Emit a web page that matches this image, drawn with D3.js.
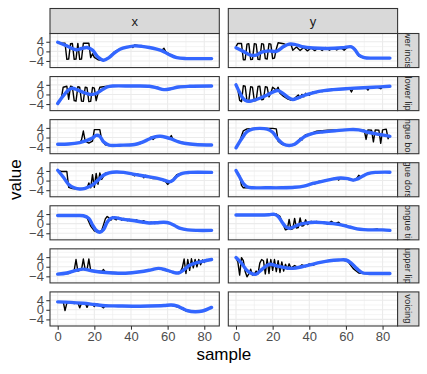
<!DOCTYPE html>
<html lang="en">
<head>
<meta charset="utf-8"/>
<title>Facets</title>
<script src="https://d3js.org/d3.v7.min.js"></script>
<style>
  body { margin: 0; background: #fff; }
  text { font-family: "Liberation Sans", Arial, sans-serif; }
  .grid-major { stroke: #ebebeb; stroke-width: 1.07; }
  .grid-minor { stroke: #ebebeb; stroke-width: 0.55; }
  .axis path { display: none; }
  .axis line { stroke: #333; stroke-width: 1.07; }
  .axis text { fill: #4d4d4d; font-size: 13px; }
</style>
</head>
<body>
<svg id="chart" width="427" height="374"></svg>
<script>
// facet labels
var rowLabels = ["lower incisor", "lower lip", "tongue body", "tongue dorsum", "tongue tip", "upper lip", "voicing"];
var colLabels = ["x", "y"];
var xTicks = [0, 20, 40, 60, 80];
var yTicks = [-4, 0, 4];

// raw traces, [sample, value]
var rawLowerIncisorX = [[0,3.8],[2,3.5],[4,3.4],[5,-3.3],[6,-3.2],[7,3.2],[8,3.3],[9,-3.3],[10,-3.2],[11,3.3],[12,-3.3],[13,-3.2],[14,3.4],[17,3.4],[18,-2.6],[19,-1.0],[20,-2.5],[22,-3.5],[25,-3.8],[28,-2.5],[31,-0.2],[34,1.0],[38,1.8],[40,2.3],[41,1.6],[42,2.7],[45,2.3],[48,2.0],[52,1.4],[55,0.8],[57,0.6],[58,1.3],[59,-0.2],[62,-1.6],[65,-2.6],[70,-3.0],[84,-3.0]];
var rawLowerLipX = [[0,-4.0],[2,-1.5],[3,3.0],[5,3.4],[6,-2.0],[7,3.4],[8,3.2],[9,-2.6],[10,-2.8],[11,3.2],[12,3.0],[13,-2.8],[14,-2.9],[15,3.0],[16,2.8],[17,-3.0],[18,-2.9],[19,2.9],[20,2.6],[21,-2.6],[22,0.5],[23,3.0],[26,3.3],[30,3.6],[50,3.5],[55,2.5],[58,1.8],[62,2.6],[67,3.3],[84,3.5]];
var rawTongueBodyX = [[0,-2.8],[8,-2.5],[12,-2.2],[13,-1.0],[14,2.7],[15,-1.5],[17,-2.3],[19,-1.5],[20,3.3],[23,3.3],[24,-1.0],[26,-3.0],[30,-3.3],[44,-2.8],[48,-1.5],[50,-0.5],[51,0.2],[52,-0.8],[54,0.4],[56,0.6],[58,0.2],[61,-0.3],[62,0.8],[63,-1.0],[66,-1.6],[70,-2.4],[75,-2.9],[84,-3.1]];
var rawTongueDorsumX = [[0,4.2],[2,3.8],[5,3.8],[6,-2.8],[8,-3.3],[11,-3.5],[16,-3.2],[17,-1.0],[18,-3.0],[19,2.5],[20,-2.8],[21,3.0],[22,-1.5],[23,3.2],[24,0.5],[26,3.1],[30,3.5],[34,3.6],[40,2.9],[42,2.0],[43,2.8],[46,2.2],[47,1.2],[48,2.2],[50,1.4],[52,0.8],[55,0.8],[57,0.2],[59,-0.5],[60,-1.6],[61,-0.8],[63,0.6],[65,2.5],[68,3.2],[84,3.4]];
var rawTongueTipX = [[0,3.4],[14,3.4],[16,2.5],[18,-1.0],[20,-3.0],[22,-3.6],[24,-2.8],[25,-0.5],[26,2.0],[27,3.0],[28,2.4],[29,1.4],[30,2.8],[31,2.0],[32,1.6],[33,2.6],[35,1.4],[36,2.2],[38,1.2],[39,1.8],[41,1.0],[43,1.6],[45,0.6],[47,1.2],[49,0.2],[51,0.6],[53,0.0],[55,0.8],[57,0.5],[60,0.6],[63,-0.5],[66,-1.8],[70,-2.6],[84,-2.8]];
var rawUpperLipX = [[0,-3.0],[6,-2.8],[8,-2.0],[9,-1.5],[10,3.0],[11,-1.8],[12,-1.5],[13,-1.2],[14,3.2],[15,-1.2],[16,-1.3],[17,3.2],[18,-1.5],[19,-1.8],[22,-1.8],[24,-2.0],[25,-1.2],[26,-2.2],[30,-2.4],[38,-2.7],[46,-2.0],[52,-1.2],[55,-0.5],[56,-0.9],[60,-1.8],[65,-2.7],[67,-2.0],[68,-0.5],[69,3.2],[70,-2.8],[71,3.0],[72,-1.5],[73,3.3],[74,-0.5],[75,3.0],[76,0.0],[77,3.0],[78,0.8],[79,2.8],[80,1.8],[81,3.0],[82,2.6],[84,3.0]];
var rawVoicingX = [[0,3.4],[3,3.4],[4,-0.3],[5,2.8],[7,3.2],[9,2.6],[11,3.0],[12,0.8],[13,2.7],[15,2.9],[16,1.0],[17,2.6],[19,2.2],[20,1.4],[21,2.4],[23,2.0],[25,0.8],[26,1.8],[30,1.7],[40,1.5],[50,1.6],[58,1.8],[62,2.0],[66,1.0],[70,-0.4],[75,-0.8],[80,-0.4],[84,1.0]];
var rawLowerIncisorY = [[0,2.0],[1,3.3],[3,3.3],[4,-3.5],[5,-3.5],[6,3.0],[7,3.2],[8,-3.4],[9,-3.3],[10,3.2],[11,3.0],[12,-3.3],[13,-3.4],[14,3.2],[15,3.0],[16,-3.0],[17,-3.2],[18,3.2],[19,3.0],[20,-3.0],[21,-2.8],[22,1.0],[23,3.6],[26,3.2],[28,2.5],[30,3.0],[31,0.5],[33,1.8],[35,0.4],[37,1.6],[39,0.2],[41,1.4],[43,0.3],[45,1.5],[47,0.4],[49,1.6],[51,0.5],[53,1.5],[55,0.6],[57,1.6],[59,0.5],[61,1.8],[63,2.0],[65,1.0],[67,-2.0],[70,-2.8],[84,-2.8]];
var rawLowerLipY = [[0,4.0],[1,2.0],[2,-2.5],[3,-3.0],[4,3.6],[5,3.4],[6,-2.8],[7,-2.6],[8,3.2],[9,3.0],[10,-2.6],[11,-2.5],[12,3.3],[13,3.4],[14,-2.2],[15,-2.0],[16,3.2],[17,3.0],[18,-1.0],[19,0.5],[20,3.0],[22,1.8],[23,3.0],[24,0.5],[26,-0.8],[28,-1.8],[30,-2.4],[32,-1.6],[34,-0.2],[35,-1.4],[36,0.0],[37,-1.0],[38,0.5],[40,-0.3],[42,1.0],[44,0.8],[45,1.6],[47,1.2],[50,1.8],[53,2.0],[56,2.2],[59,2.4],[62,2.5],[63,1.0],[64,2.6],[68,2.8],[71,2.9],[72,1.8],[73,3.0],[77,3.1],[79,2.4],[80,3.2],[84,3.5]];
var rawTongueBodyY = [[0,-4.3],[2,-1.5],[4,2.8],[6,3.6],[10,3.8],[16,3.8],[20,3.8],[22,3.6],[23,-1.5],[25,-2.8],[28,-3.3],[32,-3.0],[34,-1.6],[35,-0.3],[36,-1.0],[37,0.4],[38,1.2],[40,1.4],[42,2.0],[44,2.6],[50,3.0],[60,3.3],[65,3.2],[70,3.0],[71,-0.8],[72,3.2],[74,3.0],[75,-1.8],[76,3.2],[78,3.0],[79,-2.4],[80,3.2],[82,3.5],[83,-0.5],[84,1.0]];
var rawTongueDorsumY = [[0,4.2],[2,2.0],[3,-2.0],[4,-3.0],[6,-2.9],[10,-3.0],[20,-3.0],[30,-2.8],[36,-2.4],[40,-1.6],[42,-0.8],[43,-1.4],[45,-0.4],[48,0.0],[52,0.6],[55,1.2],[56,0.2],[57,1.0],[60,0.8],[62,0.3],[64,0.0],[66,1.0],[67,2.2],[68,1.4],[70,2.5],[74,3.2],[78,3.4],[84,3.5]];
var rawTongueTipY = [[0,3.6],[20,3.6],[22,4.0],[24,3.0],[25,1.0],[26,-0.8],[27,-2.6],[28,-2.4],[29,1.8],[30,-2.4],[31,-2.2],[32,2.2],[33,-1.8],[34,-1.6],[35,2.4],[36,-1.0],[37,-0.8],[38,1.6],[39,-0.4],[41,1.0],[42,0.2],[44,0.9],[46,0.3],[48,0.6],[50,-0.2],[52,1.0],[54,0.0],[56,0.6],[58,-0.8],[60,-0.6],[62,-1.4],[66,-2.0],[70,-2.5],[74,-2.6],[77,-2.2],[78,-2.7],[84,-2.8]];
var rawUpperLipY = [[0,3.8],[1,2.0],[2,-3.5],[3,3.8],[4,2.5],[5,-2.0],[6,-4.2],[7,-3.0],[8,-1.0],[9,-3.5],[10,-3.2],[11,-1.8],[12,-3.0],[13,1.5],[14,3.0],[15,2.5],[16,-3.0],[17,3.2],[18,-2.8],[19,3.0],[20,-1.5],[21,3.0],[22,-2.0],[23,2.5],[24,-2.4],[25,2.0],[26,-1.8],[27,1.0],[28,-1.0],[29,1.2],[30,-0.6],[32,0.5],[34,-0.4],[36,0.8],[38,0.0],[40,1.2],[42,0.6],[44,1.4],[46,1.8],[50,2.4],[55,2.7],[58,2.8],[61,2.2],[64,-0.8],[67,-2.6],[70,-2.8],[84,-2.8]];

// smoothed fits, [sample, value]
var fitLowerIncisorX = [[0,3.8],[5,2.3],[10,0.7],[13,1.2],[16,1.6],[19,0.5],[22,-2.4],[25,-3.7],[28,-2.6],[31,-0.6],[34,0.9],[38,1.8],[42,2.3],[46,2.1],[50,1.6],[54,0.9],[57,0.2],[61,-1.4],[65,-2.6],[70,-3.0],[76,-3.0],[84,-3.0]];
var fitLowerLipX = [[0,-3.8],[3,-0.6],[6,1.9],[8,2.6],[11,1.8],[15,0.6],[18,0.0],[21,0.4],[24,1.8],[27,3.1],[30,3.5],[40,3.5],[50,3.4],[54,2.8],[58,2.0],[62,2.4],[66,3.1],[72,3.4],[84,3.5]];
var fitTongueBodyX = [[0,-2.8],[6,-2.7],[12,-2.1],[16,-1.2],[19,-0.2],[21,0.9],[23,0.5],[25,-1.8],[28,-3.2],[34,-3.2],[42,-2.9],[46,-2.0],[50,-0.6],[53,0.3],[56,0.5],[59,0.1],[62,-0.6],[66,-1.8],[70,-2.5],[75,-2.9],[84,-3.1]];
var fitTongueDorsumX = [[0,4.3],[3,1.5],[6,-1.6],[9,-3.0],[12,-3.5],[15,-3.2],[19,-1.8],[22,0.2],[25,2.2],[28,3.2],[32,3.6],[36,3.4],[42,2.6],[48,1.8],[54,1.0],[58,0.2],[61,-0.5],[63,0.2],[65,1.8],[68,3.0],[72,3.4],[84,3.4]];
var fitTongueTipX = [[0,3.4],[10,3.4],[14,3.3],[17,2.2],[19,-0.5],[21,-2.8],[23,-3.6],[25,-2.5],[27,0.6],[29,2.2],[31,2.5],[36,1.8],[41,1.3],[46,0.7],[50,0.3],[54,0.4],[58,0.6],[61,0.2],[64,-0.9],[67,-2.0],[71,-2.6],[76,-2.8],[84,-2.8]];
var fitUpperLipX = [[0,-3.1],[5,-2.6],[10,-1.5],[14,-1.0],[18,-1.6],[23,-2.2],[30,-2.6],[37,-2.7],[45,-2.1],[51,-1.3],[55,-0.7],[59,-1.3],[63,-2.3],[66,-2.6],[69,-1.2],[72,0.6],[76,1.7],[80,2.4],[84,3.0]];
var fitVoicingX = [[0,3.3],[7,3.1],[14,2.7],[20,2.2],[26,1.7],[33,1.6],[41,1.5],[50,1.6],[58,1.8],[62,2.0],[65,1.6],[68,0.6],[71,-0.4],[75,-0.8],[79,-0.5],[84,1.0]];
var fitLowerIncisorY = [[0,1.5],[4,0.0],[8,-1.6],[11,-1.6],[14,-0.3],[18,0.2],[22,0.0],[26,2.0],[29,3.0],[32,2.9],[36,2.0],[42,1.4],[50,1.2],[58,1.5],[63,1.9],[65,0.6],[67,-1.5],[70,-2.6],[75,-2.8],[84,-2.8]];
var fitLowerLipY = [[0,4.0],[2,0.8],[4,-1.8],[6,-2.8],[9,-2.6],[13,-1.6],[17,-0.2],[21,1.3],[23,1.6],[26,0.2],[29,-1.5],[31,-2.1],[34,-1.4],[38,-0.2],[43,0.9],[48,1.6],[53,2.0],[60,2.4],[67,2.7],[75,3.0],[84,3.4]];
var fitTongueBodyY = [[0,-4.3],[3,-0.6],[6,2.4],[9,3.5],[13,3.8],[17,3.5],[20,2.2],[23,-0.8],[26,-2.8],[29,-3.3],[32,-2.8],[35,-1.0],[38,0.6],[42,1.7],[47,2.3],[54,2.8],[62,3.3],[67,3.2],[72,2.2],[78,1.3],[84,0.5]];
var fitTongueDorsumY = [[0,4.2],[2,1.5],[4,-1.2],[6,-2.6],[9,-3.0],[16,-3.0],[25,-3.0],[32,-2.8],[37,-2.3],[42,-1.2],[47,-0.3],[52,0.5],[57,1.1],[61,0.8],[64,0.2],[66,0.6],[69,1.8],[72,2.9],[76,3.4],[84,3.5]];
var fitTongueTipY = [[0,3.6],[10,3.6],[18,3.7],[21,3.9],[23,3.0],[25,0.8],[27,-1.2],[29,-1.9],[31,-1.5],[34,-0.5],[38,0.2],[43,0.6],[48,0.4],[53,0.0],[58,-0.6],[62,-1.4],[66,-2.2],[70,-2.5],[76,-2.6],[80,-2.6],[84,-2.8]];
var fitUpperLipY = [[0,3.8],[3,1.5],[6,-1.6],[9,-3.0],[11,-3.1],[14,-1.2],[17,0.6],[19,1.0],[22,0.4],[26,-0.3],[31,-0.7],[36,0.0],[41,0.9],[46,1.8],[51,2.5],[56,2.8],[60,2.8],[63,1.4],[66,-0.8],[69,-2.5],[73,-2.8],[84,-2.8]];

// table of facets built from the arrays above (voicing / y is empty)
var facets = [
  {row: 0, col: 0, raw: rawLowerIncisorX, fit: fitLowerIncisorX},
  {row: 1, col: 0, raw: rawLowerLipX, fit: fitLowerLipX},
  {row: 2, col: 0, raw: rawTongueBodyX, fit: fitTongueBodyX},
  {row: 3, col: 0, raw: rawTongueDorsumX, fit: fitTongueDorsumX},
  {row: 4, col: 0, raw: rawTongueTipX, fit: fitTongueTipX},
  {row: 5, col: 0, raw: rawUpperLipX, fit: fitUpperLipX},
  {row: 6, col: 0, raw: rawVoicingX, fit: fitVoicingX},
  {row: 0, col: 1, raw: rawLowerIncisorY, fit: fitLowerIncisorY},
  {row: 1, col: 1, raw: rawLowerLipY, fit: fitLowerLipY},
  {row: 2, col: 1, raw: rawTongueBodyY, fit: fitTongueBodyY},
  {row: 3, col: 1, raw: rawTongueDorsumY, fit: fitTongueDorsumY},
  {row: 4, col: 1, raw: rawTongueTipY, fit: fitTongueTipY},
  {row: 5, col: 1, raw: rawUpperLipY, fit: fitUpperLipY},
  {row: 6, col: 1, raw: [], fit: []}
];

// layout
var svg = d3.select("#chart");
var panelLeft = [50, 228.3],
    panelW = 169.3,
    panelTop = 33.5,
    panelH = 34.07,
    gap = 9,
    stripTop = 8.5,
    stripRightW = 21.3;
var bottom = panelTop + 7 * panelH + 6 * gap;

// shared scales, 5% expansion like ggplot
var xDom = [0, 84], yDom = [-6.1, 6.8];
var xPad = (xDom[1] - xDom[0]) * 0.05, yPad = (yDom[1] - yDom[0]) * 0.05;
var x = d3.scaleLinear().domain([xDom[0] - xPad, xDom[1] + xPad]).range([0, panelW]);
var y = d3.scaleLinear().domain([yDom[0] - yPad, yDom[1] + yPad]).range([panelH, 0]);

var band = 0.5; // half width of the confidence ribbon
var rawLine = d3.line().x(function(d) { return x(d[0]); }).y(function(d) { return y(d[1]); });
var fitLine = d3.line().curve(d3.curveCatmullRom.alpha(0.5))
  .x(function(d) { return x(d[0]); }).y(function(d) { return y(d[1]); });
var fitArea = d3.area().curve(d3.curveCatmullRom.alpha(0.5))
  .x(function(d) { return x(d[0]); })
  .y0(function(d) { return y(d[1] - band); })
  .y1(function(d) { return y(d[1] + band); });

var defs = svg.append("defs");

facets.forEach(function(f, i) {
  var px = panelLeft[f.col], py = panelTop + f.row * (panelH + gap);
  var g = svg.append("g").attr("transform", "translate(" + px + "," + py + ")");

  defs.append("clipPath").attr("id", "clip" + i)
    .append("rect").attr("width", panelW).attr("height", panelH);

  // grid
  g.selectAll(".gx-minor").data([10, 30, 50, 70]).enter().append("line")
    .attr("class", "grid-minor")
    .attr("x1", x).attr("x2", x).attr("y1", 0).attr("y2", panelH);
  g.selectAll(".gy-minor").data([-6, -2, 2, 6]).enter().append("line")
    .attr("class", "grid-minor")
    .attr("y1", y).attr("y2", y).attr("x1", 0).attr("x2", panelW);
  g.selectAll(".gx-major").data(xTicks).enter().append("line")
    .attr("class", "grid-major")
    .attr("x1", x).attr("x2", x).attr("y1", 0).attr("y2", panelH);
  g.selectAll(".gy-major").data(yTicks).enter().append("line")
    .attr("class", "grid-major")
    .attr("y1", y).attr("y2", y).attr("x1", 0).attr("x2", panelW);

  var inner = g.append("g").attr("clip-path", "url(#clip" + i + ")");
  if (f.raw.length) {
    inner.append("path").datum(f.raw)
      .attr("d", rawLine)
      .attr("fill", "none").attr("stroke", "#000").attr("stroke-width", 1.4)
      .attr("stroke-linejoin", "round");
    inner.append("path").datum(f.fit)
      .attr("d", fitArea)
      .attr("fill", "#999999").attr("fill-opacity", 0.4);
    inner.append("path").datum(f.fit)
      .attr("d", fitLine)
      .attr("fill", "none").attr("stroke", "#3366FF").attr("stroke-width", 3.4)
      .attr("stroke-linecap", "round");
  }

  // panel border
  g.append("rect").attr("width", panelW).attr("height", panelH)
    .attr("fill", "none").attr("stroke", "#333").attr("stroke-width", 1.07);

  // y axis on left column
  if (f.col === 0) {
    g.append("g").attr("class", "axis")
      .call(d3.axisLeft(y).tickValues(yTicks).tickSize(3.7).tickPadding(2.4));
  }
  // x axis on bottom row
  if (f.row === 6) {
    g.append("g").attr("class", "axis")
      .attr("transform", "translate(0," + panelH + ")")
      .call(d3.axisBottom(x).tickValues(xTicks).tickSize(3.7).tickPadding(2.4));
  }
});

// column strips
colLabels.forEach(function(lab, c) {
  var g = svg.append("g").attr("transform", "translate(" + panelLeft[c] + "," + stripTop + ")");
  g.append("rect").attr("width", panelW).attr("height", panelTop - stripTop)
    .attr("fill", "#d9d9d9").attr("stroke", "#333").attr("stroke-width", 1.07);
  g.append("text").attr("x", panelW / 2).attr("y", (panelTop - stripTop) / 2)
    .attr("dy", "0.35em").attr("text-anchor", "middle")
    .attr("font-size", "13px").attr("fill", "#1a1a1a").text(lab);
});

// row strips, labels clipped to the strip like ggplot does
var stripX = panelLeft[1] + panelW;
rowLabels.forEach(function(lab, r) {
  var py = panelTop + r * (panelH + gap);
  defs.append("clipPath").attr("id", "sclip" + r)
    .append("rect").attr("width", stripRightW).attr("height", panelH);
  var g = svg.append("g").attr("transform", "translate(" + stripX + "," + py + ")");
  g.append("rect").attr("width", stripRightW).attr("height", panelH)
    .attr("fill", "#d9d9d9").attr("stroke", "#333").attr("stroke-width", 1.07);
  g.append("g").attr("clip-path", "url(#sclip" + r + ")")
    .append("text")
      .attr("transform", "translate(" + (stripRightW / 2) + "," + (panelH / 2) + ") rotate(90)")
      .attr("dy", "0.35em").attr("text-anchor", "middle")
      .attr("font-size", "9.4px").attr("fill", "#1a1a1a").text(lab);
});

// axis titles
svg.append("text")
  .attr("x", (panelLeft[0] + panelLeft[1] + panelW) / 2).attr("y", 360)
  .attr("text-anchor", "middle").attr("font-size", "17px").attr("fill", "#000")
  .text("sample");
svg.append("text")
  .attr("transform", "translate(21," + ((panelTop + bottom) / 2) + ") rotate(-90)")
  .attr("text-anchor", "middle").attr("font-size", "17px").attr("fill", "#000")
  .text("value");
</script>
</body>
</html>
